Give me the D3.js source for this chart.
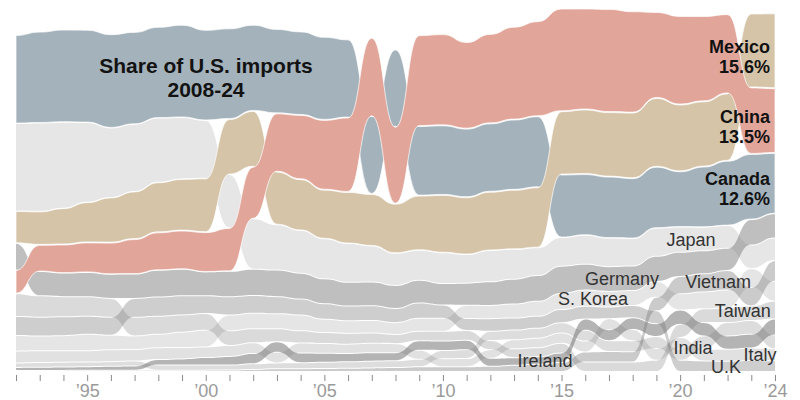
<!DOCTYPE html>
<html><head><meta charset="utf-8">
<script src="https://cdn.jsdelivr.net/npm/d3@7"></script>
<style>body{margin:0;background:#fff} svg{display:block;font-family:"Liberation Sans",Arial,sans-serif}</style>
</head><body><svg id="c" width="800" height="400"></svg>
<script>
// Share of U.S. goods imports (%), 1992-2024
const years = d3.range(1992, 2025);
const canada  = [18.51,19.10,19.36,19.42,19.60,19.32,19.08,19.39,18.95,18.96,18.00,17.63,17.45,17.35,16.31,16.20,16.14,14.50,14.50,14.28,14.25,14.64,14.82,13.12,12.71,12.79,12.55,12.78,11.57,12.61,13.50,13.66,12.63];
const china   = [4.82,5.42,5.85,6.13,6.48,7.19,7.81,7.98,8.21,8.97,10.78,12.12,13.38,14.55,15.52,16.42,16.06,19.00,19.07,18.09,18.70,19.42,19.88,21.49,21.14,21.59,21.22,17.97,18.51,17.82,16.54,13.85,13.50];
const mexico  = [6.61,6.87,7.46,8.30,9.34,9.87,10.37,10.71,11.16,11.51,11.59,10.99,10.61,10.16,10.70,10.77,10.26,11.33,12.01,11.91,12.20,12.37,12.55,13.18,13.45,13.43,13.65,14.33,13.91,13.58,14.03,15.42,15.60];
const japan   = [18.28,18.48,17.97,16.61,14.49,13.98,13.36,12.78,12.03,11.09,10.45,9.39,8.83,8.25,7.99,7.43,6.62,6.14,6.30,5.84,6.43,6.11,5.69,5.83,5.95,5.83,5.62,5.75,5.11,4.76,4.57,4.78,4.54];
const germany = [5.41,4.93,4.78,4.95,4.89,4.95,5.46,5.38,4.80,5.18,5.38,5.41,5.25,5.07,4.81,4.81,4.63,4.58,4.31,4.47,4.78,5.04,5.23,5.55,5.22,5.03,4.96,5.10,4.93,4.68,4.50,5.17,4.91];
const korea   = [3.13,2.94,2.97,3.26,2.85,2.66,2.62,3.05,3.31,3.09,3.07,2.96,3.14,2.62,2.47,2.43,2.29,2.51,2.55,2.57,2.59,2.75,2.95,3.19,3.19,3.05,2.93,3.10,3.25,3.35,3.55,3.77,4.03];
const taiwan  = [4.62,4.32,4.03,3.89,3.76,3.74,3.63,3.44,3.33,2.93,2.76,2.51,2.35,2.08,2.06,1.96,1.73,1.82,1.87,1.88,1.71,1.67,1.72,1.82,1.80,1.82,1.80,2.17,2.58,2.72,2.87,2.85,3.56];
const uk      = [3.77,3.74,3.78,3.62,3.63,3.76,3.82,3.83,3.56,3.63,3.50,3.40,3.16,3.05,2.89,2.91,2.79,3.05,2.60,2.32,2.42,2.33,2.30,2.57,2.53,2.27,2.40,2.53,2.15,2.02,1.97,2.09,2.08];
const italy   = [2.31,2.27,2.23,2.19,2.29,2.23,2.30,2.19,2.05,2.09,2.08,2.02,1.91,1.85,1.76,1.79,1.72,1.69,1.49,1.54,1.62,1.71,1.79,1.96,2.07,2.14,2.16,2.29,2.22,2.27,2.32,2.48,2.31];
const india   = [0.71,0.79,0.80,0.77,0.78,0.84,0.90,0.89,0.88,0.85,1.02,1.04,1.06,1.12,1.18,1.23,1.22,1.36,1.54,1.64,1.78,1.84,1.92,1.99,2.10,2.08,2.14,2.31,2.19,2.59,2.64,2.72,2.68];
const ireland = [0.43,0.46,0.51,0.55,0.63,0.68,0.92,1.07,1.35,1.62,1.93,2.05,1.87,1.72,1.53,1.55,1.49,1.80,1.77,1.78,1.47,1.39,1.38,1.81,2.13,2.09,2.26,2.48,2.80,2.61,2.59,2.66,3.16];
const vietnam = [0.00,0.00,0.01,0.03,0.04,0.04,0.06,0.06,0.07,0.09,0.21,0.36,0.36,0.40,0.46,0.54,0.61,0.79,0.78,0.79,0.89,1.09,1.30,1.69,1.92,1.99,1.94,2.67,3.41,3.60,3.93,3.71,4.18];

const tickLabelYears = [1995, 2000, 2005, 2010, 2015, 2020, 2024];

// band styles (draw order: greys first, then coloured)
const series = [
  {name:"Japan",    values:japan,   fill:"#777", op:0.18},
  {name:"Germany",  values:germany, fill:"#777", op:0.47},
  {name:"S. Korea", values:korea,   fill:"#777", op:0.19},
  {name:"Taiwan",   values:taiwan,  fill:"#777", op:0.27},
  {name:"U.K",      values:uk,      fill:"#777", op:0.36},
  {name:"Italy",    values:italy,   fill:"#777", op:0.22},
  {name:"India",    values:india,   fill:"#777", op:0.25},
  {name:"Ireland",  values:ireland, fill:"#777", op:0.55},
  {name:"Vietnam",  values:vietnam, fill:"#777", op:0.38},
  {name:"Canada",   values:canada,  fill:"#a4b2bb", op:1, stroke:true},
  {name:"Mexico",   values:mexico,  fill:"#d5c4a8", op:1, stroke:true},
  {name:"China",    values:china,   fill:"#e1a599", op:1, stroke:true}
];

const greyLabels = [
  {name:"Japan", year:2020.46, anchor:"middle"},
  {name:"Germany", year:2017.55, anchor:"middle"},
  {name:"S. Korea", year:2016.33, anchor:"middle"},
  {name:"Vietnam", year:2021.6, anchor:"middle"},
  {name:"Taiwan", year:2023.82, anchor:"end"},
  {name:"India", year:2020.54, anchor:"middle"},
  {name:"U.K", year:2021.93, anchor:"middle"},
  {name:"Italy", year:2023.37, anchor:"middle"},
  {name:"Ireland", year:2014.3, anchor:"middle"}
];
const boldLabels = [
  {name:"Mexico", value:"15.6%"},
  {name:"China", value:"13.5%"},
  {name:"Canada", value:"12.6%"}
];

const svg = d3.select("#c");
const x = d3.scaleLinear().domain([1992, 2024]).range([16, 775]);
const pxPerPct = 4.73, base = 371, gap = 1;
const y = d3.scaleLinear().domain([0, 75]).range([base, base - 75 * pxPerPct]);

// ranked stacking per year
const pos = {};
series.forEach(s => pos[s.name] = []);
years.forEach((yr, i) => {
  const sorted = series.slice().sort((a, b) => a.values[i] - b.values[i]);
  let cum = 0;
  sorted.forEach((s, k) => {
    const v = s.values[i];
    pos[s.name][i] = {year: yr, bottom: y(cum) - k * gap, top: y(cum + v) - k * gap};
    cum += v;
  });
});

const area = d3.area()
  .x(d => x(d.year)).y0(d => d.bottom).y1(d => d.top)
  .curve(d3.curveBumpX);

svg.append("g").selectAll("path").data(series).join("path")
  .attr("d", s => area(pos[s.name]))
  .attr("fill", s => s.fill)
  .attr("fill-opacity", s => s.op)
  .attr("stroke", s => s.stroke ? "#fff" : "none")
  .attr("stroke-width", 0.7);

// position on a bumpX segment
function centerAt(name, yr) {
  const i = Math.min(Math.floor(yr - 1992), years.length - 2);
  const t = yr - 1992 - i;
  let lo = 0, hi = 1;
  for (let k = 0; k < 40; k++) {
    const s = (lo + hi) / 2, X = 1.5 * s * (1 - s) + s * s * s;
    if (X < t) lo = s; else hi = s;
  }
  const s = (lo + hi) / 2, Y = 3 * s * s - 2 * s * s * s;
  const a = pos[name][i], b = pos[name][i + 1];
  const ca = (a.top + a.bottom) / 2, cb = (b.top + b.bottom) / 2;
  return ca + (cb - ca) * Y;
}

// axis
const axis = d3.axisBottom(x).tickValues(years).tickSize(6).tickPadding(3)
  .tickFormat(d => tickLabelYears.includes(d) ? "\u2019" + String(d).slice(2) : "");
const gx = svg.append("g").attr("transform", `translate(0,375)`).call(axis);
gx.select(".domain").remove();
gx.selectAll(".tick line").attr("stroke", "#8a8a8a");
gx.selectAll(".tick text").attr("fill", "#9a9a9a").attr("font-size", 18)
  .attr("font-family", '"Liberation Sans",Arial,sans-serif');

// grey labels
svg.append("g").selectAll("text").data(greyLabels).join("text")
  .attr("x", d => x(d.year))
  .attr("y", d => centerAt(d.name, d.year) + 6.5)
  .attr("text-anchor", d => d.anchor)
  .attr("font-size", 18).attr("fill", "#333")
  .text(d => d.name);

// bold labels at right edge
const last = years.length - 1;
const bl = svg.append("g").attr("font-weight", "bold").attr("font-size", 18)
  .attr("fill", "#121212").attr("text-anchor", "end");
boldLabels.forEach(d => {
  const p = pos[d.name][last], c = (p.top + p.bottom) / 2;
  bl.append("text").attr("x", 770).attr("y", c + 2).text(d.name);
  bl.append("text").attr("x", 770).attr("y", c + 22).text(d.value);
});

// title
const tt = svg.append("g").attr("font-weight", "bold").attr("font-size", 21)
  .attr("fill", "#121212").attr("text-anchor", "middle");
tt.append("text").attr("x", 206).attr("y", 73).text("Share of U.S. imports");
tt.append("text").attr("x", 206).attr("y", 97).text("2008-24");
</script></body></html>
